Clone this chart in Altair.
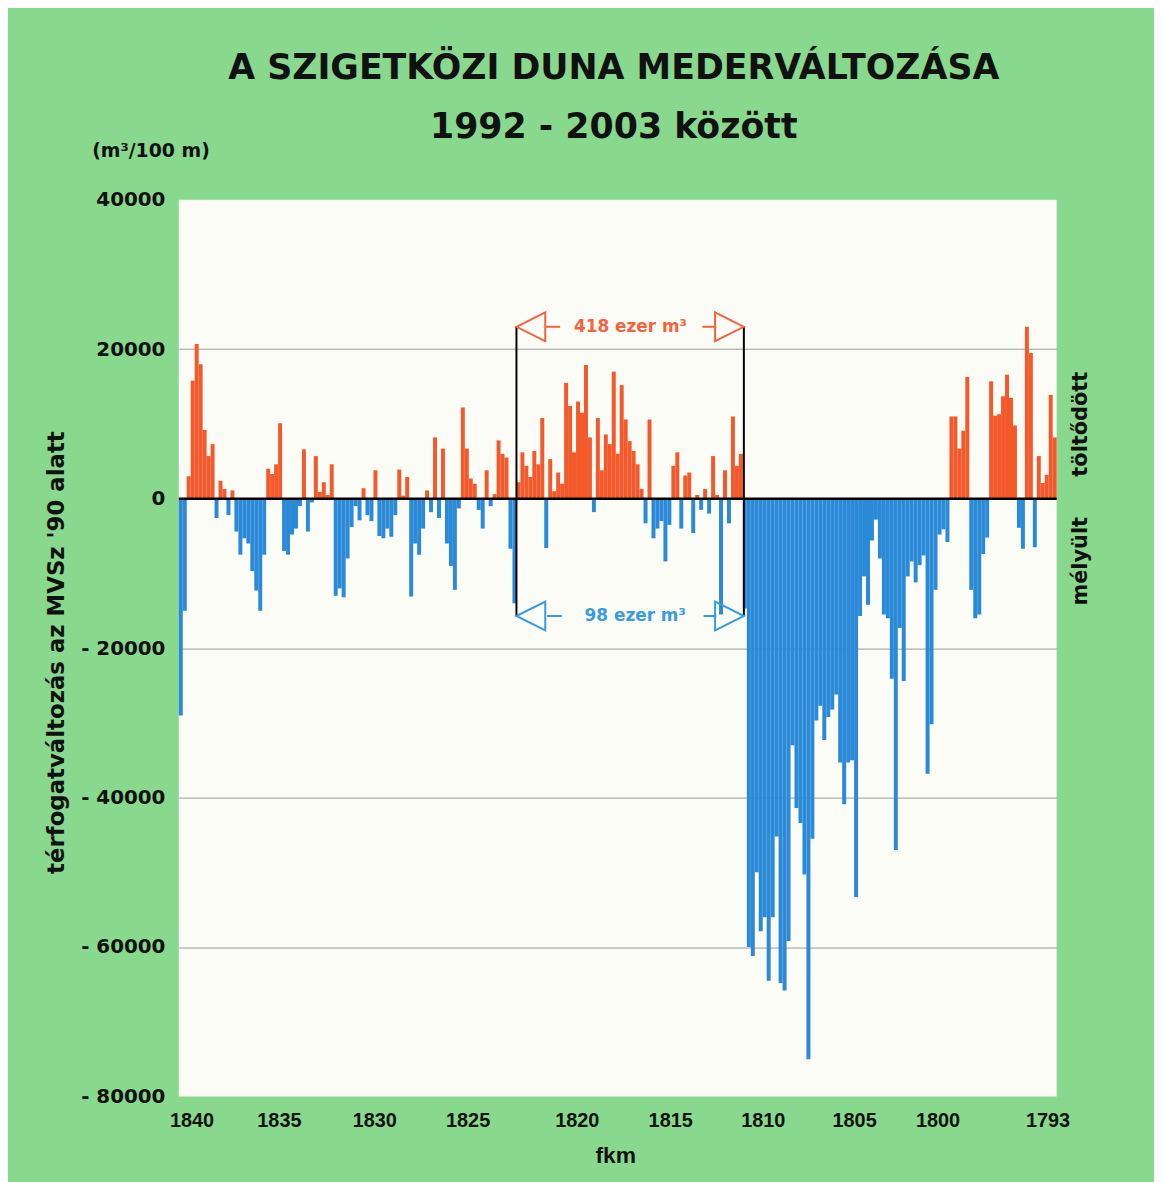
import json
import altair as alt
import pandas as pd

# ---------------- texts ----------------
TITLE = "A SZIGETKÖZI DUNA MEDERVÁLTOZÁSA"
SUBTITLE = "1992 - 2003 között"
UNIT = "(m³/100 m)"
Y_TITLE = "térfogatváltozás az MVSz '90 alatt"
X_TITLE = "fkm"
FILL_LABEL = "töltődött"
DEEP_LABEL = "mélyült"

# ---------------- data (m3 / 100 m, upstream -> downstream) ----------------
VALUES = [
    -29000, -15000, 3000, 15800, 20700, 18000, 9200, 5700, 7300, -2600,
    2400, 1300, -2200, 1100, -4400, -7500, -5300, -6000, -9700, -12300,
    -15000, -7500, 4000, 3300, 4600, 10100, -7000, -7500, -4800, -4000,
    -1000, 6600, -4400, -500, 5700, 900, 2200, 500, 4600, -13000,
    -12000, -13200, -8000,
    -3800, -1000, -2900, 1400, -2200, -3000, 3800, -5000, -5300, -4000,
    -5100, -2200, 3900, 400, 2900, -13100, -6000, -7500, -4000, 1100,
    -1800, 8200, -2600, 6700, -6000, -9000, -12200, -1300, 12200, 6700,
    2700, 2000, -1500, -4000, 3800, -1000, 600, 7800, 6000, 5500,
    -6700, -14000,
    2200, 6200, 4400, 2900, 6400, 4600, 10800, -6600, 5300, 1000,
    3500, 2000, 15500, 12400, 6200, 13000, 11500, 17900, 8200, -1800,
    10800, 3800, 8600, 7300, 17000, 6000, 15200, 10600, 7700, 6400,
    4600, 1300, -3300, 10600, -5300, -4000, -3000, -8400, -3500, 4400,
    6200, -4000, 3100, 3500, -4600, 500, -1500, 1300, -2000, 5700,
    500, -15500, 3800, -3300, 11000, 4400, 6000,
    -14700, -60000, -61200, -50000, -57900, -56000, -64500, -56000, -45200, -64800,
    -65800, -59200, -33000, -41400, -43400, -50300, -75000, -45500, -29700, -27700,
    -32300, -29200, -28200, -26200, -35300, -40900, -35300, -35000, -53300, -15700,
    -10400, -14200, -5600, -2800, -8000, -15500, -16000, -24100, -47000, -17300,
    -24400, -10400, -8400, -11200, -8900, -7600, -36800, -30200, -12200, -4800,
    -4100, -5800,
    11000, 11000, 6700, 9100, 16300, -12200, -16000, -15500, -7400, -5200,
    15700, 11100, 11300, 13700, 16600, 13500, 9800, -3900, -6700, 23000,
    19500, -6500, 5700, 2100, 3200, 13900, 8200,
]
N = len(VALUES)

# x tick labels (fkm) and the bar-index position where each sits
TICK_LAB = ["1840", "1835", "1830", "1825", "1820", "1815", "1810", "1805", "1800", "1793"]
TICK_POS = [3.2, 25.2, 49.2, 72.7, 100.2, 123.7, 147.0, 170.0, 191.0, 218.7]
Y_TICKS = [40000, 20000, 0, -20000, -40000, -60000, -80000]

# bracket annotation (bar-index units / m3 units)
BRACKET_X = [85.0, 142.25]
BRACKET_TOP = 23000
BRACKET_BOTTOM = -15700
ANNOT_TEXT = ["418 ezer m³", "98 ezer m³"]
ANNOT_X = [113.7, 114.9]
ANNOT_Y = [23000, -15700]
SEG_L_START = [92.4, 92.7]
SEG_L_END = [96.0, 96.4]
SEG_R_START = [131.8, 132.1]
SEG_R_END = [135.3, 135.3]

# ---------------- style ----------------
GREEN = "#88D88E"
PLOT_BG = "#FCFCF7"
RED = "#F4592C"
BLUE = "#2B8AD8"
RED_T = "#F2633E"
BLUE_T = "#3A9BE0"
INK = "#111111"

W, H = 884, 903
xs = alt.Scale(domain=[0, N], nice=False, zero=False)
ys = alt.Scale(domain=[-80000, 40000], nice=False, zero=False)

df = pd.DataFrame({"i": list(range(N)), "v": VALUES})
df["i2"] = df["i"] + 1

label_expr = f"{json.dumps(TICK_LAB)}[indexof({json.dumps(TICK_POS)}, datum.value)]"

X_AXIS = alt.Axis(
    values=TICK_POS, labelExpr=label_expr, title=None, domain=False, ticks=False,
    grid=False, labelFont="Liberation Sans", labelFontSize=20, labelFontWeight="bold",
    labelColor=INK, labelPadding=14, labelOverlap=False, labelFlush=False, labelBound=False)
Y_AXIS = alt.Axis(
    values=Y_TICKS,
    labelExpr="datum.value < 0 ? '- ' + (-datum.value) : '' + datum.value",
    title=None, domain=False, ticks=False, grid=True,
    gridColor={"condition": {"test": "datum.value === 40000 || datum.value === -80000",
                             "value": "transparent"}, "value": "#9a9a9a"},
    gridWidth=1, labelFont="DejaVu Sans", labelFontSize=20, labelFontWeight="bold",
    labelColor=INK, labelPadding=14)


def X(field):
    return alt.X(field, scale=xs, axis=X_AXIS, title=None)


def Y(field):
    return alt.Y(field, scale=ys, axis=Y_AXIS, title=None)


bars = alt.Chart(df).mark_bar().encode(
    x=X("i:Q"),
    x2="i2:Q",
    y=Y("v:Q"),
    y2=alt.datum(0),
    color=alt.condition("datum.v > 0", alt.value(RED), alt.value(BLUE)),
)

zero = alt.Chart(pd.DataFrame({"z": [0]})).mark_rule(color="black", strokeWidth=2.5).encode(
    y=Y("z:Q")
)

brk = pd.DataFrame({"x": BRACKET_X, "top": [BRACKET_TOP] * 2, "bot": [BRACKET_BOTTOM] * 2})
brackets = alt.Chart(brk).mark_rule(color="black", strokeWidth=2).encode(
    x=X("x:Q"),
    y=Y("top:Q"),
    y2="bot:Q",
)

LEFT_PATH = "M0,0L2,-1L2,1Z"
RIGHT_PATH = "M0,0L-2,-1L-2,1Z"
tri = pd.DataFrame({
    "x": [BRACKET_X[0], BRACKET_X[1], BRACKET_X[0], BRACKET_X[1]],
    "y": [ANNOT_Y[0], ANNOT_Y[0], ANNOT_Y[1], ANNOT_Y[1]],
    "side": ["left", "right", "left", "right"],
    "col": [RED_T, RED_T, BLUE_T, BLUE_T],
})
triangles = alt.Chart(tri).mark_point(filled=False, size=841, strokeWidth=2, opacity=1).encode(
    x=X("x:Q"),
    y=Y("y:Q"),
    shape=alt.Shape("side:N", scale=alt.Scale(domain=["left", "right"], range=[LEFT_PATH, RIGHT_PATH]), legend=None),
    stroke=alt.Stroke("col:N", scale=None),
)

seg = pd.DataFrame({
    "a": SEG_L_START + SEG_R_START,
    "b": SEG_L_END + SEG_R_END,
    "y": ANNOT_Y + ANNOT_Y,
    "col": [RED_T, BLUE_T, RED_T, BLUE_T],
})
segments = alt.Chart(seg).mark_rule(strokeWidth=2).encode(
    x=X("a:Q"),
    x2="b:Q",
    y=Y("y:Q"),
    color=alt.Color("col:N", scale=None),
)

ann = pd.DataFrame({"x": ANNOT_X, "y": ANNOT_Y, "t": ANNOT_TEXT, "col": [RED_T, BLUE_T]})
ann_text = alt.Chart(ann).mark_text(font="DejaVu Sans", fontSize=17, fontWeight="bold",
                                     baseline="middle", align="center").encode(
    x=X("x:Q"),
    y=Y("y:Q"),
    text="t:N",
    color=alt.Color("col:N", scale=None),
)


def label(text, x, y, size, font="DejaVu Sans", angle=0, baseline="alphabetic"):
    kw = dict(font=font, fontSize=size, fontWeight="bold", color=INK, align="center",
              baseline=baseline)
    if angle:
        kw["angle"] = angle
    return alt.Chart(pd.DataFrame({"t": [text]})).mark_text(**kw).encode(
        x=alt.value(x), y=alt.value(y), text="t:N")


texts = [
    label(TITLE, 438, -122, 35),
    label(SUBTITLE, 438, -62, 35),
    label(UNIT, -28, -43, 19),
    label(Y_TITLE, -123, 456, 23, angle=270, baseline="middle"),
    label(X_TITLE, 440, 963, 23, font="Liberation Sans", baseline="middle"),
    label(FILL_LABEL, 909, 226, 21, angle=270, baseline="middle"),
    label(DEEP_LABEL, 909, 364, 21, angle=270, baseline="middle"),
]

chart = alt.layer(bars, zero, brackets, segments, triangles, ann_text, *texts).properties(
    width=W, height=H,
    padding={"left": 172, "top": 189, "right": 98, "bottom": 82},
    autosize=alt.AutoSizeParams(type="none"),
    background=GREEN,
).configure_view(fill=PLOT_BG, strokeWidth=0)

chart.save("out.html", embed_options={"renderer": "svg", "actions": False})
